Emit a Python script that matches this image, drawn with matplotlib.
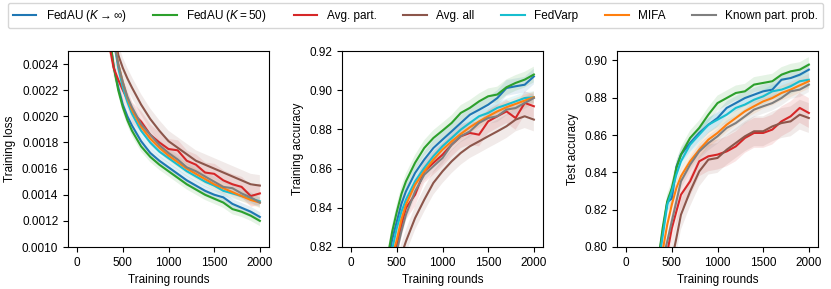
import matplotlib
matplotlib.use("Agg")
import matplotlib.pyplot as plt
from matplotlib.ticker import MultipleLocator

plt.rcParams['font.family'] = ['Liberation Sans', 'DejaVu Sans']
plt.rcParams['mathtext.fontset'] = 'custom'
plt.rcParams['mathtext.rm'] = 'Liberation Sans'
plt.rcParams['mathtext.it'] = 'Liberation Sans:italic'
plt.rcParams['font.size'] = 8.5

# Training rounds at which values were read
rounds = [250, 300, 350, 400, 450, 500, 550, 600, 700, 800, 900, 1000,
          1100, 1200, 1300, 1400, 1500, 1600, 1700, 1800, 1900, 2000]

labels = [r"FedAU ($K \to \infty$)", r"FedAU ($K = 50$)", "Avg. part.", "Avg. all",
          "FedVarp", "MIFA", "Known part. prob."]
colors = ["#1f77b4", "#2ca02c", "#d62728", "#8c564b", "#17becf", "#ff7f0e", "#7f7f7f"]

# Training loss
loss_fedau_inf = [0.0033, 0.0029, 0.00262, 0.00238, 0.00222, 0.00209, 0.00200, 0.00193, 0.00181, 0.00172, 0.00166,
                  0.00161, 0.00156, 0.00151, 0.00147, 0.00143, 0.00140, 0.00138, 0.00133, 0.00130, 0.00127, 0.00123]
loss_fedau_50 = [0.0034, 0.0030, 0.00265, 0.00238, 0.00220, 0.00207, 0.00197, 0.00189, 0.00177, 0.00169, 0.00163,
                 0.00158, 0.00153, 0.00148, 0.00144, 0.00140, 0.00137, 0.00134, 0.00129, 0.00127, 0.00124, 0.00120]
loss_avg_part = [0.0034, 0.0029, 0.00255, 0.00237, 0.00228, 0.00220, 0.00213, 0.00203, 0.00196, 0.00186, 0.00180,
                 0.00175, 0.00174, 0.00166, 0.00163, 0.00157, 0.00156, 0.00151, 0.00148, 0.00146, 0.00139, 0.00141]
loss_avg_all = [0.0040, 0.0034, 0.0029, 0.00270, 0.00247, 0.00237, 0.00229, 0.00222, 0.00209, 0.00198, 0.00189,
                0.00181, 0.00176, 0.00171, 0.00166, 0.00163, 0.00160, 0.00157, 0.00154, 0.00151, 0.00148, 0.00147]
loss_fedvarp = [0.0035, 0.0032, 0.0029, 0.00258, 0.00237, 0.00222, 0.00211, 0.00202, 0.00189, 0.00180, 0.00173,
                0.00168, 0.00163, 0.00158, 0.00154, 0.00150, 0.00147, 0.00143, 0.00141, 0.00139, 0.00137, 0.00135]
loss_mifa = [0.0035, 0.0032, 0.0029, 0.00262, 0.00240, 0.00226, 0.00214, 0.00205, 0.00192, 0.00183, 0.00176,
             0.00170, 0.00165, 0.00160, 0.00156, 0.00152, 0.00148, 0.00145, 0.00142, 0.00139, 0.00136, 0.00134]
loss_known = [0.0035, 0.0031, 0.0028, 0.00260, 0.00240, 0.00226, 0.00215, 0.00207, 0.00194, 0.00186, 0.00178,
              0.00172, 0.00167, 0.00161, 0.00158, 0.00154, 0.00150, 0.00146, 0.00145, 0.00141, 0.00138, 0.00134]

# Training accuracy
tacc_fedau_inf = [0.755, 0.78, 0.80, 0.812, 0.824, 0.833, 0.842, 0.8484, 0.8578, 0.8646, 0.8705,
                  0.8748, 0.879, 0.8833, 0.8875, 0.890, 0.8926, 0.896, 0.9011, 0.902, 0.9028, 0.907]
tacc_fedau_50 = [0.76, 0.785, 0.803, 0.815, 0.828, 0.838, 0.847, 0.8535, 0.863, 0.8705, 0.8756,
                 0.8794, 0.8833, 0.8884, 0.891, 0.8943, 0.8969, 0.8978, 0.9015, 0.9037, 0.9054, 0.908]
tacc_avg_part = [0.74, 0.765, 0.785, 0.80, 0.812, 0.821, 0.831, 0.8399, 0.8467, 0.8586, 0.8629,
                 0.8671, 0.8722, 0.8765, 0.8782, 0.8773, 0.8841, 0.8867, 0.8892, 0.8858, 0.8935, 0.8918]
tacc_avg_all = [0.72, 0.745, 0.765, 0.78, 0.795, 0.806, 0.816, 0.8229, 0.8348, 0.8441, 0.8527,
                0.8586, 0.8637, 0.868, 0.8714, 0.8739, 0.8765, 0.879, 0.8816, 0.885, 0.8867, 0.885]
tacc_fedvarp = [0.75, 0.775, 0.795, 0.807, 0.819, 0.8297, 0.838, 0.8441, 0.8535, 0.8603, 0.8663,
                0.8714, 0.8756, 0.8799, 0.8833, 0.8867, 0.8884, 0.891, 0.8926, 0.8943, 0.896, 0.8964]
tacc_mifa = [0.745, 0.77, 0.79, 0.803, 0.815, 0.8237, 0.834, 0.8416, 0.8518, 0.8586, 0.8646,
             0.8697, 0.8739, 0.8777, 0.8811, 0.8841, 0.8867, 0.8892, 0.8913, 0.893, 0.8947, 0.8964]
tacc_known = [0.74, 0.765, 0.785, 0.80, 0.81, 0.818, 0.828, 0.8365, 0.8484, 0.8569, 0.8612,
              0.8654, 0.8722, 0.8765, 0.879, 0.8833, 0.8858, 0.8867, 0.8901, 0.8909, 0.8935, 0.896]

# Test accuracy
vacc_fedau_inf = [0.75, 0.775, 0.792, 0.808, 0.824, 0.826, 0.843, 0.8495, 0.8557, 0.8611, 0.8655,
                  0.8691, 0.8745, 0.8771, 0.8798, 0.8816, 0.8834, 0.8843, 0.8896, 0.8905, 0.8923, 0.895]
vacc_fedau_50 = [0.75, 0.78, 0.792, 0.8102, 0.8245, 0.8316, 0.8423, 0.8495, 0.8584, 0.8638, 0.8709,
                 0.8771, 0.8798, 0.8825, 0.8834, 0.887, 0.8879, 0.8888, 0.8923, 0.8941, 0.895, 0.8977]
vacc_avg_part = [0.73, 0.755, 0.775, 0.788, 0.797, 0.810, 0.8191, 0.828, 0.8352, 0.8459, 0.8486,
                 0.8495, 0.8512, 0.8539, 0.8584, 0.8611, 0.8611, 0.8629, 0.8673, 0.870, 0.8745, 0.8718]
vacc_avg_all = [0.72, 0.74, 0.76, 0.772, 0.783, 0.793, 0.8048, 0.8173, 0.8298, 0.8405, 0.8468,
                0.8477, 0.8521, 0.8557, 0.8593, 0.862, 0.862, 0.8646, 0.8664, 0.8673, 0.8709, 0.8691]
vacc_fedvarp = [0.745, 0.77, 0.79, 0.806, 0.8227, 0.8298, 0.8388, 0.8459, 0.8548, 0.8602, 0.8655,
                0.8682, 0.8709, 0.8745, 0.8763, 0.8789, 0.8807, 0.8834, 0.8843, 0.8861, 0.8888, 0.8896]
vacc_mifa = [0.74, 0.765, 0.785, 0.798, 0.812, 0.8227, 0.8316, 0.8379, 0.8459, 0.8521, 0.8575,
             0.8611, 0.8655, 0.8691, 0.8727, 0.8754, 0.878, 0.8798, 0.8825, 0.8843, 0.8866, 0.8888]
vacc_known = [0.735, 0.76, 0.78, 0.793, 0.803, 0.8138, 0.8245, 0.8352, 0.8441, 0.8512, 0.8557,
              0.8593, 0.8638, 0.8664, 0.870, 0.8736, 0.8754, 0.8771, 0.8798, 0.8834, 0.8843, 0.887]

# Approximate half-width of the shaded spread per method
loss_spread = [0.00004, 0.00004, 0.00008, 0.00008, 0.00004, 0.00004, 0.00004]
tacc_spread = [0.004, 0.004, 0.006, 0.006, 0.003, 0.003, 0.003]
vacc_spread = [0.004, 0.004, 0.008, 0.008, 0.004, 0.004, 0.004]

panels = [
    ("Training loss", [loss_fedau_inf, loss_fedau_50, loss_avg_part, loss_avg_all, loss_fedvarp, loss_mifa, loss_known],
     loss_spread, (0.0010, 0.0025), 0.0002),
    ("Training accuracy", [tacc_fedau_inf, tacc_fedau_50, tacc_avg_part, tacc_avg_all, tacc_fedvarp, tacc_mifa, tacc_known],
     tacc_spread, (0.82, 0.92), 0.02),
    ("Test accuracy", [vacc_fedau_inf, vacc_fedau_50, vacc_avg_part, vacc_avg_all, vacc_fedvarp, vacc_mifa, vacc_known],
     vacc_spread, (0.80, 0.905), 0.02),
]

fig = plt.figure(figsize=(8.31, 2.89), dpi=100)
lefts = [68 / 831, 342 / 831, 617 / 831]

for left, (ylabel, series, spread, ylim, step) in zip(lefts, panels):
    ax = fig.add_axes([left, 1 - 247 / 289, 201 / 831, 196 / 289])
    for vals, s, c, lab in zip(series, spread, colors, labels):
        lo = [v - s for v in vals]
        hi = [v + s for v in vals]
        ax.fill_between(rounds, lo, hi, color=c, alpha=0.12, linewidth=0)
        ax.plot(rounds, vals, color=c, lw=1.5, label=lab)
    ax.set_xlim(-100, 2100)
    ax.set_ylim(*ylim)
    ax.set_xticks([0, 500, 1000, 1500, 2000])
    ax.yaxis.set_major_locator(MultipleLocator(step))
    ax.set_xlabel("Training rounds")
    ax.set_ylabel(ylabel)

handles, labs = ax.get_legend_handles_labels()
fig.legend(handles, labs, loc="upper left", ncol=7, mode="expand",
           bbox_to_anchor=(8 / 831, 0.70, 815 / 831, 1 - 3 / 289 - 0.70),
           fontsize=8.5, frameon=True, borderaxespad=0)

fig.savefig("out.png", dpi=100)
